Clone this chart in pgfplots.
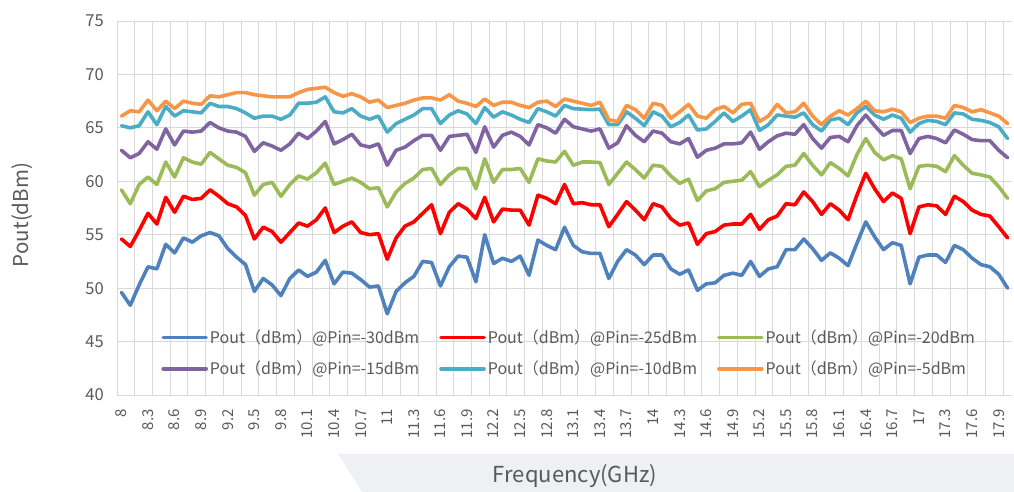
\documentclass[border=0pt]{standalone}
\usepackage{pgfplots}
\pgfplotsset{compat=1.18}
\usepackage{pgfplotstable}
\usepackage{fontspec}
\setmainfont{Noto Sans CJK SC}
\definecolor{cblue}{HTML}{4F81BD}
\definecolor{cred}{HTML}{FF0000}
\definecolor{cgreen}{HTML}{9BBB59}
\definecolor{cpurple}{HTML}{8064A2}
\definecolor{ccyan}{HTML}{4BACC6}
\definecolor{corange}{HTML}{F79646}
\definecolor{gridgray}{HTML}{D9D9D9}
\definecolor{labelgray}{HTML}{595959}
\definecolor{bandgray}{HTML}{EEF0F3}
\pgfplotstableread{
f p30 p25 p20 p15 p10 p5
8.0 49.6 54.6 59.2 62.9 65.2 66.1
8.1 48.4 53.9 57.9 62.2 65.0 66.6
8.2 50.3 55.4 59.7 62.6 65.2 66.5
8.3 52.0 57.0 60.4 63.7 66.5 67.6
8.4 51.8 56.0 59.7 63.0 65.3 66.6
8.5 54.1 58.5 61.8 64.9 67.0 67.5
8.6 53.3 57.1 60.4 63.4 66.1 66.8
8.7 54.7 58.6 62.2 64.7 66.6 67.5
8.8 54.3 58.3 61.8 64.6 66.5 67.3
8.9 54.9 58.4 61.6 64.7 66.4 67.2
9.0 55.2 59.2 62.7 65.5 67.3 68.0
9.1 54.9 58.6 62.1 65.0 67.0 67.9
9.2 53.7 57.9 61.5 64.7 67.0 68.1
9.3 52.9 57.6 61.3 64.6 66.8 68.3
9.4 52.2 56.8 60.8 64.2 66.4 68.3
9.5 49.7 54.6 58.7 62.8 65.9 68.1
9.6 50.9 55.7 59.7 63.6 66.1 68.0
9.7 50.3 55.3 59.9 63.3 66.1 67.9
9.8 49.3 54.3 58.6 62.9 65.8 67.9
9.9 50.9 55.2 59.7 63.5 66.2 67.9
10.0 51.7 56.1 60.5 64.5 67.3 68.3
10.1 51.1 55.8 60.2 64.0 67.3 68.6
10.2 51.5 56.4 60.8 64.7 67.4 68.7
10.3 52.6 57.5 61.7 65.6 67.9 68.8
10.4 50.4 55.2 59.7 63.5 66.5 68.3
10.5 51.5 55.8 60.0 63.9 66.4 67.95
10.6 51.4 56.2 60.3 64.4 66.8 68.2
10.7 50.8 55.2 59.9 63.4 66.1 67.9
10.8 50.1 55.0 59.3 63.2 65.8 67.4
10.9 50.2 55.1 59.4 63.5 66.1 67.6
11.0 47.6 52.7 57.6 61.5 64.6 66.9
11.1 49.7 54.7 59.0 62.9 65.4 67.1
11.2 50.5 55.8 59.8 63.2 65.8 67.3
11.3 51.1 56.2 60.3 63.8 66.2 67.6
11.4 52.5 57.0 61.1 64.3 66.8 67.8
11.5 52.4 57.8 61.2 64.3 66.8 67.8
11.6 50.2 55.1 59.7 62.9 65.4 67.6
11.7 52.0 57.1 60.6 64.2 66.2 68.1
11.8 53.0 57.9 61.2 64.3 66.6 67.5
11.9 52.9 57.4 61.2 64.4 66.3 67.3
12.0 50.6 56.5 59.3 62.7 65.4 67.0
12.1 55.0 58.5 62.1 65.1 66.9 67.7
12.2 52.3 56.2 59.9 63.2 66.0 67.1
12.3 52.8 57.4 61.1 64.3 66.5 67.4
12.4 52.5 57.3 61.1 64.6 66.2 67.4
12.5 53.0 57.3 61.2 64.2 65.8 67.1
12.6 51.2 55.9 59.9 63.4 65.5 66.9
12.7 54.5 58.7 62.1 65.3 66.8 67.4
12.8 54.0 58.4 61.9 65.0 66.5 67.5
12.9 53.6 57.9 61.8 64.5 66.1 67.0
13.0 55.7 59.7 62.8 65.8 67.1 67.7
13.1 54.0 57.9 61.5 65.1 66.8 67.5
13.2 53.4 58.0 61.8 64.9 66.75 67.3
13.3 53.25 57.8 61.8 64.7 66.7 67.1
13.4 53.25 57.8 61.75 64.9 66.75 67.4
13.5 50.9 55.75 59.7 63.1 65.3 65.75
13.6 52.5 56.9 60.75 63.6 65.3 65.6
13.7 53.6 58.1 61.8 65.2 66.5 67.1
13.8 53.1 57.3 61.1 64.3 65.9 66.7
13.9 52.2 56.4 60.3 63.7 65.2 65.9
14.0 53.1 57.9 61.5 64.7 66.5 67.3
14.1 53.1 57.6 61.4 64.5 66.1 67.1
14.2 51.8 56.5 60.5 63.7 65.1 65.9
14.3 51.3 55.9 59.8 63.5 65.5 66.5
14.4 51.7 56.1 60.2 64.0 66.2 67.2
14.5 49.8 54.1 58.2 62.25 64.8 66.1
14.6 50.4 55.1 59.1 62.9 64.9 65.9
14.7 50.5 55.3 59.3 63.1 65.6 66.7
14.8 51.2 55.9 59.9 63.5 66.4 67.0
14.9 51.4 56.0 60.0 63.5 65.6 66.4
15.0 51.2 56.0 60.1 63.6 66.1 67.2
15.1 52.5 56.9 60.9 64.6 66.7 67.3
15.2 51.1 55.5 59.5 63.0 64.75 65.6
15.3 51.8 56.4 60.1 63.7 65.3 66.1
15.4 52.0 56.75 60.6 64.25 66.2 67.2
15.5 53.6 57.9 61.4 64.5 66.1 66.4
15.6 53.6 57.8 61.5 64.4 66.0 66.5
15.7 54.6 59.0 62.6 65.3 66.4 67.3
15.8 53.7 58.1 61.5 64.0 65.3 66.1
15.9 52.6 56.9 60.6 63.1 64.7 65.3
16.0 53.3 57.9 61.75 64.1 65.75 66.1
16.1 52.8 57.3 61.2 64.2 65.9 66.6
16.2 52.1 56.4 60.5 63.7 65.3 66.2
16.3 54.2 58.7 62.5 65.2 66.4 66.8
16.4 56.2 60.75 64.0 66.2 67.0 67.5
16.5 54.8 59.3 62.7 65.2 66.2 66.6
16.6 53.6 58.1 62.0 64.3 65.8 66.5
16.7 54.25 58.9 62.4 64.75 66.2 66.75
16.8 54.0 58.4 62.1 64.75 65.9 66.5
16.9 50.4 55.1 59.3 62.6 64.6 65.5
17.0 52.9 57.6 61.4 64.0 65.4 65.9
17.1 53.1 57.8 61.5 64.2 65.7 66.1
17.2 53.1 57.7 61.4 64.0 65.6 66.1
17.3 52.4 56.9 60.9 63.6 65.3 65.9
17.4 54.0 58.6 62.4 64.8 66.4 67.1
17.5 53.6 58.1 61.5 64.4 66.3 66.9
17.6 52.8 57.3 60.75 63.9 65.8 66.5
17.7 52.2 56.9 60.6 63.8 65.7 66.7
17.8 52.0 56.75 60.4 63.8 65.5 66.4
17.9 51.3 55.75 59.5 62.9 65.1 66.1
18.0 50.0 54.7 58.4 62.2 64.0 65.4
}\datatable
\begin{document}
\begin{tikzpicture}[x=1pt,y=1pt]
\fill[bandgray] (338,38) -- (1014,38) -- (1014,0) -- (362,0) -- cycle;
\begin{axis}[
  at={(117pt,97pt)}, anchor=south west,
  scale only axis, width=895pt, height=374pt,
  xmin=-0.5, xmax=100.5, ymin=40, ymax=75,
  ytick={40,45,...,75},
  xtick={0,3,...,99},
  xticklabels={8,8.3,8.6,8.9,9.2,9.5,9.8,10.1,10.4,10.7,11,11.3,11.6,11.9,12.2,12.5,12.8,13.1,13.4,13.7,14,14.3,14.6,14.9,15.2,15.5,15.8,16.1,16.4,16.7,17,17.3,17.6,17.9},
  minor xtick={-0.5,1.5,...,99.5},
  xminorgrids, ymajorgrids,
  major tick length=0pt, minor tick length=0pt,
  axis line style={draw=none},
  grid style={line width=0.9pt, draw=gridgray},
  minor grid style={line width=0.9pt, draw=gridgray},
  /pgf/number format/assume math mode=true,
  yticklabel style={font=\fontsize{16.5}{19}\selectfont, text=labelgray, anchor=east, inner sep=0pt, xshift=-13pt},
  xticklabel style={font=\fontsize{15}{18}\selectfont, text=labelgray, rotate=90, anchor=east, inner sep=0pt, xshift=-14pt},
  every axis plot/.append style={line width=3.6pt, line join=round, line cap=round},
  legend columns=3,
  legend cell align=left,
  legend image code/.code={\draw[#1, line width=3.6pt] (0pt,0pt) -- (43pt,0pt);},
  legend style={at={(0.046,0.185)}, anchor=north west, draw=none, fill=none,
    font=\fontsize{16}{19}\selectfont, text=labelgray, row sep=12pt,
    /tikz/every even column/.append style={column sep=18pt}},
]
\addplot[cblue] table[x expr=\coordindex, y=p30] {\datatable};
\addlegendentry{Pout（dBm）@Pin=-30dBm}
\addplot[cred] table[x expr=\coordindex, y=p25] {\datatable};
\addlegendentry{Pout（dBm）@Pin=-25dBm}
\addplot[cgreen] table[x expr=\coordindex, y=p20] {\datatable};
\addlegendentry{Pout（dBm）@Pin=-20dBm}
\addplot[cpurple] table[x expr=\coordindex, y=p15] {\datatable};
\addlegendentry{Pout（dBm）@Pin=-15dBm}
\addplot[ccyan] table[x expr=\coordindex, y=p10] {\datatable};
\addlegendentry{Pout（dBm）@Pin=-10dBm}
\addplot[corange] table[x expr=\coordindex, y=p5] {\datatable};
\addlegendentry{Pout（dBm）@Pin=-5dBm}
\end{axis}
\node[rotate=90, font=\fontsize{20.5}{24}\selectfont, text=labelgray] at (22,277) {Pout(dBm)};
\node[font=\fontsize{22}{26}\selectfont, text=labelgray] at (575,16) {Frequency(GHz)};
\pgfresetboundingbox
\useasboundingbox (0,0) rectangle (1014,492);
\end{tikzpicture}
\end{document}
